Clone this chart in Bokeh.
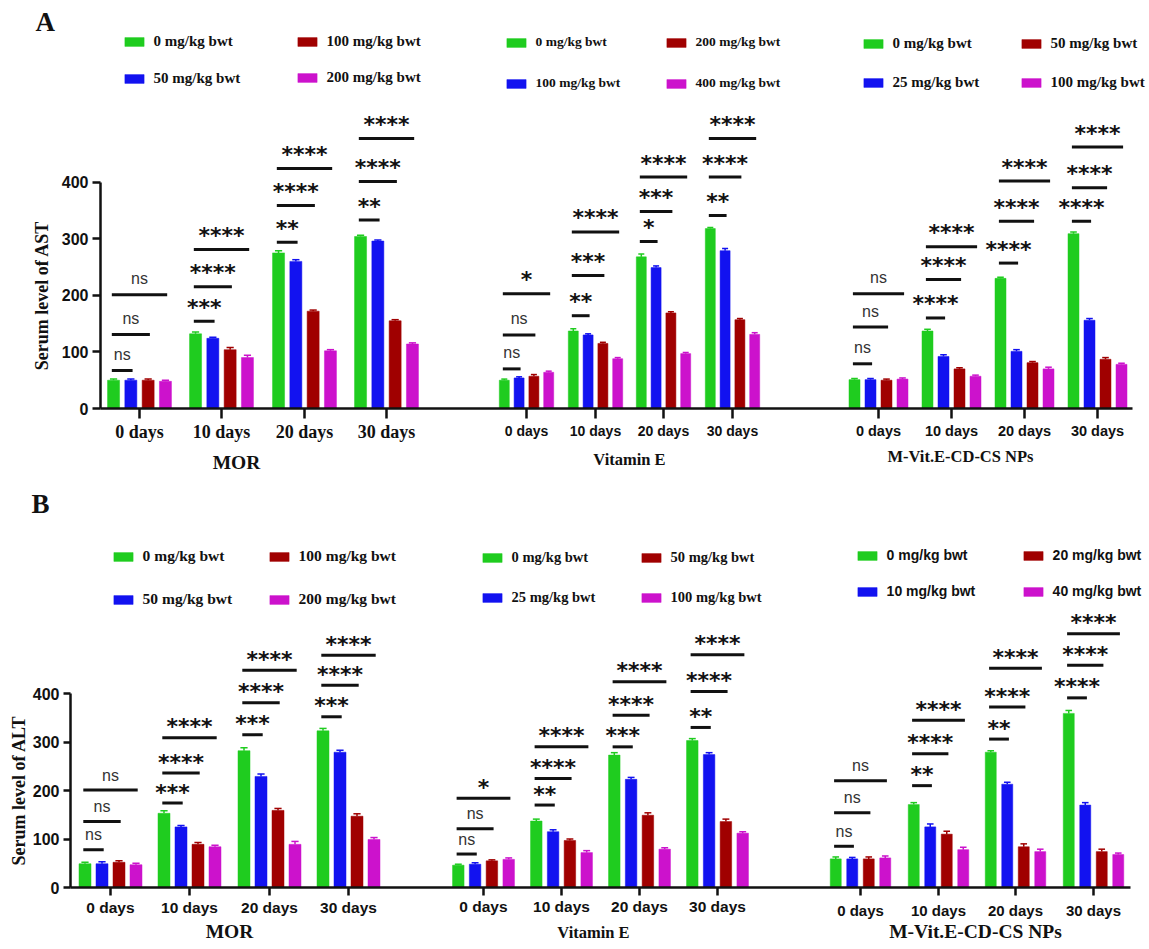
from bokeh.plotting import figure
from bokeh.models import Range1d, FixedTicker, LinearAxis, Legend, LegendItem, Label
from bokeh.layouts import column
from bokeh.embed import file_html
from bokeh.resources import INLINE
from bokeh.core.properties import value

# ------------------------------------------------------------------ data
days = ["0 days", "10 days", "20 days", "30 days"]
panel_names = ["MOR", "Vitamin E", "M-Vit.E-CD-CS NPs"]

# ---- A : serum AST  (rows = dose, columns = day)
ast_mor_doses = ["0 mg/kg bwt", "50 mg/kg bwt", "100 mg/kg bwt", "200 mg/kg bwt"]
ast_mor = [[50, 132, 275, 304], [50, 124, 260, 296], [50, 104, 172, 155], [48, 90, 102, 114]]
ast_mor_err = [[2, 3, 4, 2], [2, 2, 3, 2], [2, 4, 2, 2], [2, 4, 2, 2]]
ast_mor_sig = [["ns", "ns", "ns"], ["***", "****", "****"], ["**", "****", "****"], ["**", "****", "****"]]
ast_mor_sig_y = [[67, 131, 201], [154, 215, 281], [294, 359, 424], [333, 401, 477]]

ast_vite_doses = ["0 mg/kg bwt", "100 mg/kg bwt", "200 mg/kg bwt", "400 mg/kg bwt"]
ast_vite = [[50, 137, 268, 318], [54, 130, 249, 279], [57, 115, 169, 157], [64, 88, 97, 131]]
ast_vite_err = [[2, 4, 5, 2], [2, 2, 3, 4], [3, 2, 2, 2], [2, 2, 2, 3]]
ast_vite_sig = [["ns", "ns", "*"], ["**", "***", "****"], ["*", "***", "****"], ["**", "****", "****"]]
ast_vite_sig_y = [[70, 130, 203], [164, 235, 312], [295, 348, 409], [341, 409, 477]]

ast_np_doses = ["0 mg/kg bwt", "25 mg/kg bwt", "50 mg/kg bwt", "100 mg/kg bwt"]
ast_np = [[51, 137, 230, 309], [51, 92, 101, 156], [50, 70, 81, 87], [52, 57, 70, 78]]
ast_np_err = [[2, 3, 2, 3], [2, 3, 3, 3], [2, 2, 2, 3], [2, 2, 3, 2]]
ast_np_sig = [["ns", "ns", "ns"], ["****", "****", "****"], ["****", "****", "****"], ["****", "****", "****"]]
ast_np_sig_y = [[79, 144, 203], [160, 228, 286], [257, 331, 402], [331, 390, 462]]

# ---- B : serum ALT
alt_mor_doses = ["0 mg/kg bwt", "50 mg/kg bwt", "100 mg/kg bwt", "200 mg/kg bwt"]
alt_mor = [[49, 153, 282, 323], [49, 125, 229, 279], [52, 89, 159, 147], [47, 84, 89, 99]]
alt_mor_err = [[3, 5, 6, 5], [4, 3, 5, 4], [3, 4, 4, 5], [3, 3, 6, 4]]
alt_mor_sig = [["ns", "ns", "ns"], ["***", "****", "****"], ["***", "****", "****"], ["***", "****", "****"]]
alt_mor_sig_y = [[78, 136, 201], [174, 236, 309], [315, 381, 448], [352, 417, 479]]

alt_vite_doses = ["0 mg/kg bwt", "25 mg/kg bwt", "50 mg/kg bwt", "100 mg/kg bwt"]
alt_vite = [[46, 137, 273, 303], [48, 115, 223, 274], [55, 97, 149, 136], [58, 72, 79, 112]]
alt_vite_err = [[2, 4, 5, 4], [3, 4, 4, 4], [2, 3, 5, 5], [3, 4, 3, 3]]
alt_vite_sig = [["ns", "ns", "*"], ["**", "****", "****"], ["***", "****", "****"], ["**", "****", "****"]]
alt_vite_sig_y = [[69, 121, 184], [170, 225, 290], [290, 355, 424], [330, 404, 480]]

alt_np_doses = ["0 mg/kg bwt", "10 mg/kg bwt", "20 mg/kg bwt", "40 mg/kg bwt"]
alt_np = [[59, 171, 279, 359], [59, 125, 213, 170], [59, 110, 84, 74], [61, 78, 74, 68]]
alt_np_err = [[4, 4, 3, 6], [3, 6, 4, 5], [4, 6, 6, 5], [4, 5, 5, 3]]
alt_np_sig = [["ns", "ns", "ns"], ["**", "****", "****"], ["**", "****", "****"], ["****", "****", "****"]]
alt_np_sig_y = [[85, 154, 220], [210, 276, 345], [306, 372, 452], [391, 458, 523]]

# ------------------------------------------------------------------ style / layout
COLORS = ["#1fcc1f", "#1212f0", "#a00000", "#cc12cc"]
SERIF = "Liberation Serif"
SANS = "Liberation Sans"
STAR_FONT = "DejaVu Sans"
RIGHT_EDGE = 1147
GW, GH = 24, 11

row_a = dict(
    letter="A", letter_xy=(35, 36), frame_left=100, fig_top=0, height=478, frame_bottom=408,
    px_per_unit=0.5658, ylabel="Serum level of AST", ylabel_standoff=7, axis_end=1132,
    tick_out=8, xtick_out=10, star_off=-14, ns_off=-16,
    panels=[
        dict(doses=ast_mor_doses, vals=ast_mor, err=ast_mor_err, sig=ast_mor_sig, sig_y=ast_mor_sig_y,
             c0=139, step=82.4, pitch=17.3, bw=12,
             day_font=SERIF, day_size=18, day_c=431.7, title_x=236, title_size=19.5, title_c=463,
             legend=[(124, 41, 78), (297, 41, 77)], lfont=SERIF, lsize=15),
        dict(doses=ast_vite_doses, vals=ast_vite, err=ast_vite_err, sig=ast_vite_sig, sig_y=ast_vite_sig_y,
             c0=526, step=68.7, pitch=14.8, bw=10,
             day_font=SANS, day_size=14, day_c=430, title_x=629, title_size=16.5, title_c=459,
             legend=[(506, 42, 83), (666, 42, 83)], lfont=SERIF, lsize=13.5),
        dict(doses=ast_np_doses, vals=ast_np, err=ast_np_err, sig=ast_np_sig, sig_y=ast_np_sig_y,
             c0=878, step=73, pitch=16, bw=11,
             day_font=SANS, day_size=14.5, day_c=430, title_x=960, title_size=16.5, title_c=456,
             legend=[(863, 43, 82), (1021, 43, 82)], lfont=SERIF, lsize=15),
    ])

row_b = dict(
    letter="B", letter_xy=(31, 518), frame_left=70, fig_top=478, height=471, frame_bottom=887,
    px_per_unit=0.485, ylabel="Serum level of ALT", ylabel_standoff=1, axis_end=1130,
    tick_out=7, xtick_out=8, star_off=-11, ns_off=-15,
    panels=[
        dict(doses=alt_mor_doses, vals=alt_mor, err=alt_mor_err, sig=alt_mor_sig, sig_y=alt_mor_sig_y,
             c0=110, step=79.3, pitch=17, bw=12,
             day_font=SANS, day_size=15.5, day_c=906.7, title_x=229, title_size=19.5, title_c=932,
             legend=[(113, 556, 599), (269, 556, 599)], lfont=SERIF, lsize=15.5),
        dict(doses=alt_vite_doses, vals=alt_vite, err=alt_vite_err, sig=alt_vite_sig, sig_y=alt_vite_sig_y,
             c0=483, step=78, pitch=16.8, bw=11.5,
             day_font=SANS, day_size=15.5, day_c=906, title_x=593, title_size=16.5, title_c=932,
             legend=[(482, 557, 597), (641, 557, 597)], lfont=SERIF, lsize=14.5),
        dict(doses=alt_np_doses, vals=alt_np, err=alt_np_err, sig=alt_np_sig, sig_y=alt_np_sig_y,
             c0=860, step=77.7, pitch=16.5, bw=11,
             day_font=SANS, day_size=15, day_c=910, title_x=975, title_size=19.5, title_c=932,
             legend=[(857, 555, 591), (1023, 555, 591)], lfont=SANS, lsize=14),
    ])


def make_row(cfg):
    fl = cfg["frame_left"]
    fb = cfg["frame_bottom"]
    k = cfg["px_per_unit"]
    top = cfg["fig_top"]
    H = cfg["height"]
    bottom_page = top + H
    p = figure(title=None, width=RIGHT_EDGE, height=H,
               frame_width=RIGHT_EDGE, frame_height=H,
               x_range=Range1d(0, RIGHT_EDGE),
               y_range=Range1d(-(bottom_page - fb) / k, (fb - top) / k),
               min_border_left=0, min_border_right=0, min_border_top=0, min_border_bottom=0,
               output_backend="svg", toolbar_location=None)
    p.grid.visible = False
    p.outline_line_color = None
    p.background_fill_color = "white"

    # y axis, drawn at its place inside the frame
    ya = p.yaxis[0]
    ya.fixed_location = fl
    ya.ticker = FixedTicker(ticks=[0, 100, 200, 300, 400])
    ya.bounds = (0, 400)
    ya.axis_line_width = 2.5
    ya.axis_line_color = "#111111"
    ya.major_tick_line_width = 2.5
    ya.major_tick_line_color = "#111111"
    ya.major_tick_out = cfg["tick_out"]
    ya.major_tick_in = 0
    ya.minor_tick_line_color = None
    ya.major_label_text_font = SANS
    ya.major_label_text_font_style = "bold"
    ya.major_label_text_font_size = "16px"
    ya.major_label_text_color = "#111111"
    ya.major_label_standoff = 4
    ya.axis_label = cfg["ylabel"]
    ya.axis_label_text_font = SERIF
    ya.axis_label_text_font_style = "bold"
    ya.axis_label_text_font_size = "18px"
    ya.axis_label_text_color = "#111111"
    ya.axis_label_standoff = cfg["ylabel_standoff"]

    all_ticks = []
    sx0, sx1, sy, star_x, star_y, star_t, ns_x, ns_y, ns_t = [], [], [], [], [], [], [], [], []

    for pi, pan in enumerate(cfg["panels"]):
        centers = [int(round(pan["c0"] + d * pan["step"])) for d in range(len(days))]
        all_ticks += centers

        def bx(c, j):
            return c + (j - 1.5) * pan["pitch"]

        rends = []
        for j, (vals, errs) in enumerate(zip(pan["vals"], pan["err"])):
            xs = [bx(c, j) for c in centers]
            r = p.vbar(x=xs, top=vals, width=pan["bw"], bottom=0,
                       fill_color=COLORS[j], line_color=COLORS[j], line_width=0.5)
            rends.append(r)
            ups = [v + e for v, e in zip(vals, errs)]
            p.segment(x0=xs, y0=vals, x1=xs, y1=ups, line_color=COLORS[j], line_width=1.5)
            p.segment(x0=[x - pan["bw"] * 0.3 for x in xs], y0=ups,
                      x1=[x + pan["bw"] * 0.3 for x in xs], y1=ups,
                      line_color=COLORS[j], line_width=1.5)

        for d, c in enumerate(centers):
            for j in range(3):
                a = bx(c, 0) - 0.1 * pan["pitch"]
                b = bx(c, j + 1) + 0.1 * pan["pitch"]
                yv = pan["sig_y"][d][j]
                sx0.append(a); sx1.append(b); sy.append(yv)
                lab = pan["sig"][d][j]
                if lab == "ns":
                    ns_x.append((a + b) / 2); ns_y.append(yv); ns_t.append(lab)
                else:
                    star_x.append((a + b) / 2); star_y.append(yv); star_t.append(lab)

        # day labels of this panel (own font), below the shared x axis line
        ds = pan["day_size"]
        da = LinearAxis(ticker=FixedTicker(ticks=centers),
                        major_label_overrides={c: dn for c, dn in zip(centers, days)},
                        fixed_location=0, axis_line_color=None, major_tick_line_color=None,
                        minor_tick_line_color=None, major_tick_out=0, major_tick_in=0,
                        major_label_standoff=int(round(pan["day_c"] - fb - 0.575 * ds)),
                        major_label_text_font=pan["day_font"], major_label_text_font_style="bold",
                        major_label_text_font_size=f"{ds}px", major_label_text_color="#111111")
        p.add_layout(da, "below")

        # panel name
        ts = pan["title_size"]
        ta = LinearAxis(ticker=FixedTicker(ticks=[pan["title_x"]]),
                        major_label_overrides={pan["title_x"]: panel_names[pi]},
                        fixed_location=-(pan["title_c"] - 0.575 * ts - fb) / k,
                        axis_line_color=None, major_tick_line_color=None, minor_tick_line_color=None,
                        major_tick_out=0, major_tick_in=0, major_label_standoff=0,
                        major_label_text_font=SERIF, major_label_text_font_style="bold",
                        major_label_text_font_size=f"{ts}px", major_label_text_color="#111111")
        p.add_layout(ta, "below")

        # legend: two columns of two items
        for col in range(2):
            sw_left, r1, r2 = pan["legend"][col]
            rh = round(pan["lsize"] * 1.15)
            items = [LegendItem(label=pan["doses"][col * 2 + i], renderers=[rends[col * 2 + i]]) for i in range(2)]
            leg = Legend(items=items,
                         location=(sw_left - 0.1 * GW, bottom_page - (r2 + rh / 2)),
                         orientation="vertical", spacing=int(round(r2 - r1 - rh)),
                         padding=0, margin=0, glyph_width=GW, glyph_height=GH,
                         label_height=GH, label_standoff=8,
                         label_text_font=pan["lfont"], label_text_font_style="bold",
                         label_text_font_size=f"{pan['lsize']}px", label_text_color="#111111",
                         border_line_color=None, background_fill_alpha=0)
            p.add_layout(leg, "center")

    p.segment(x0=sx0, y0=sy, x1=sx1, y1=sy, line_color="#111111", line_width=3)
    p.text(x=star_x, y=star_y, text=star_t, text_align="center", text_baseline="alphabetic",
           y_offset=cfg["star_off"], text_font=value(STAR_FONT), text_font_style="bold",
           text_font_size="22px", text_color="#111111")
    p.text(x=ns_x, y=ns_y, text=ns_t, text_align="center", text_baseline="alphabetic",
           y_offset=cfg["ns_off"], text_font=value(SANS), text_font_size="16px", text_color="#333333")

    # shared x axis line with ticks at every group, drawn at y = 0
    xa = p.xaxis[0]
    xa.fixed_location = 0
    xa.ticker = FixedTicker(ticks=all_ticks)
    xa.major_label_overrides = {c: "" for c in all_ticks}
    xa.bounds = (fl, cfg["axis_end"])
    xa.axis_line_width = 2.5
    xa.axis_line_color = "#111111"
    xa.major_tick_line_width = 2.5
    xa.major_tick_line_color = "#111111"
    xa.major_tick_out = cfg["xtick_out"]
    xa.major_tick_in = 0
    xa.minor_tick_line_color = None

    lx, ly = cfg["letter_xy"]
    p.add_layout(Label(x=lx, y=bottom_page - ly, x_units="screen", y_units="screen", text=cfg["letter"],
                       text_font=SERIF, text_font_style="bold", text_font_size="27px",
                       text_color="#111111"))
    return p


pA = make_row(row_a)
pB = make_row(row_b)
layout = column(pA, pB, spacing=0)
open("out.html", "w").write(file_html(layout, INLINE))
